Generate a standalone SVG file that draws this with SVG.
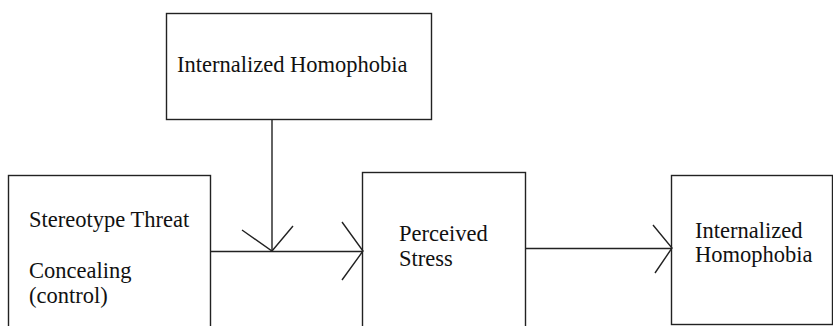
<svg xmlns="http://www.w3.org/2000/svg" width="833" height="326" viewBox="0 0 833 326">
<style>
.box{fill:#fff;stroke:#222;stroke-width:1.4}
.lbl{font-family:"Liberation Serif","Times New Roman",serif;font-size:22.5px;fill:#111}
.con{fill:none;stroke:#222;stroke-width:1.4}
</style>
<rect width="833" height="326" fill="#fff"/>
<g id="node-ih-top">
<rect class="box" x="166.5" y="13.5" width="265" height="106"/>
<text class="lbl" x="177" y="72">Internalized Homophobia</text>
</g>
<g id="node-st">
<rect class="box" x="8.5" y="175.5" width="202" height="160"/>
<text class="lbl" x="29" y="227">Stereotype Threat</text>
<text class="lbl" x="29" y="278">Concealing</text>
<text class="lbl" x="29" y="303">(control)</text>
</g>
<g id="node-ps">
<rect class="box" x="362.5" y="172.5" width="163" height="165"/>
<text class="lbl" x="399" y="241">Perceived</text>
<text class="lbl" x="399" y="266">Stress</text>
</g>
<g id="node-ih-right">
<rect class="box" x="671.5" y="175.5" width="161" height="149"/>
<text class="lbl" x="695" y="238">Internalized</text>
<text class="lbl" x="695" y="262">Homophobia</text>
</g>
<g id="connectors">
<path class="con" d="M210.5 251.5 H363"/>
<path class="con" d="M342 222 L363 251 L342 280"/>
<path class="con" d="M272 119.5 V251"/>
<path class="con" d="M242 230 L272 251 L293 226"/>
<path class="con" d="M525.5 248.5 H672"/>
<path class="con" d="M653 225 L672 248 L655 273"/>
</g>
</svg>
